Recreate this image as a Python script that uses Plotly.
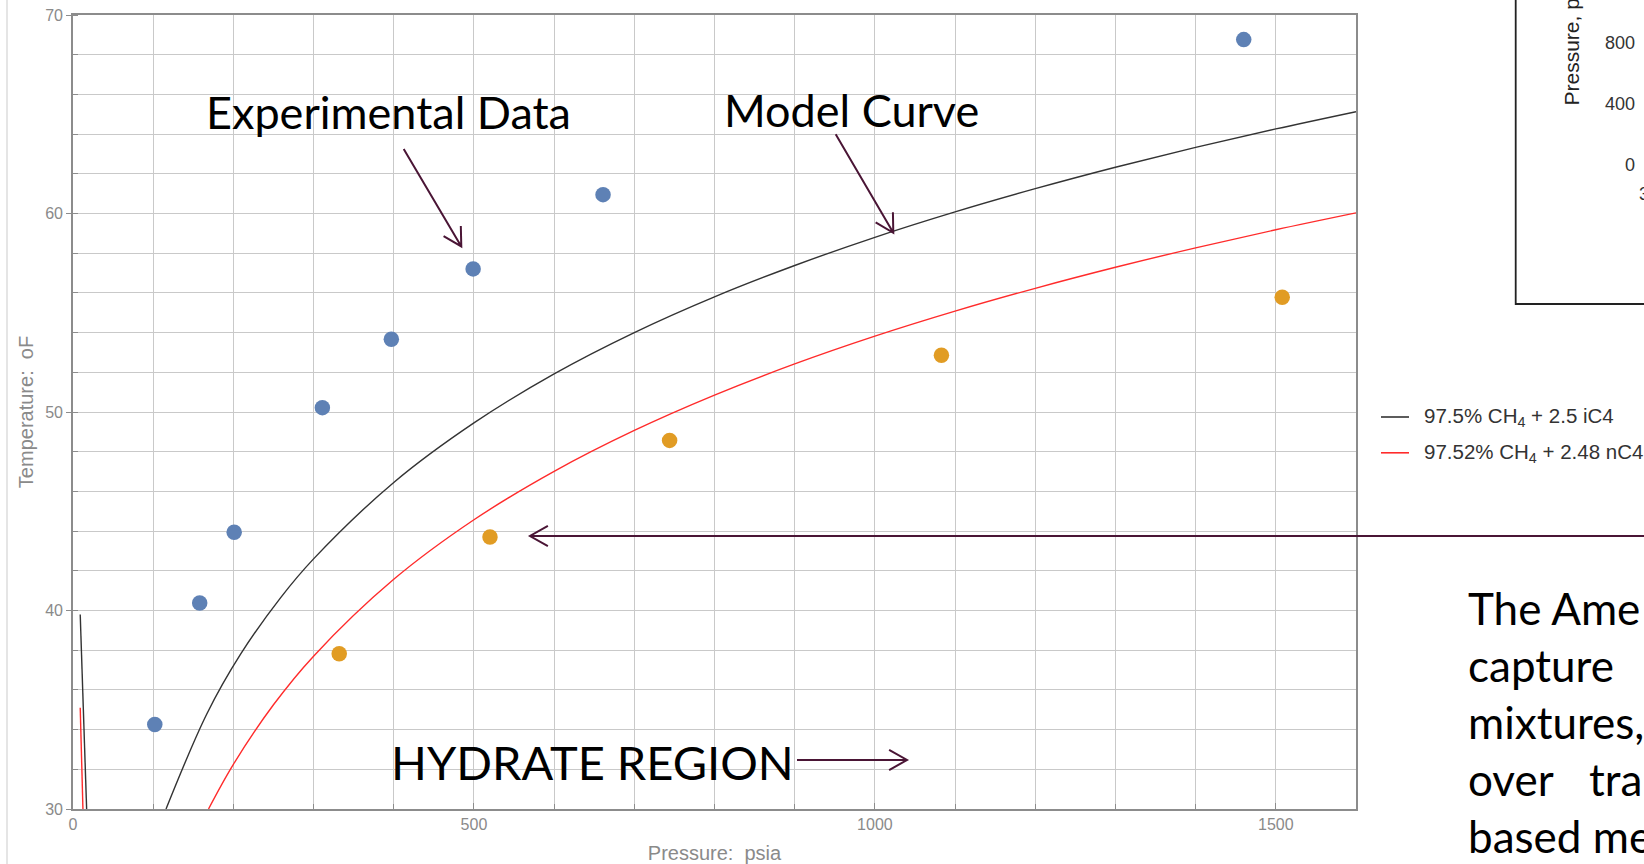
import math
import plotly.graph_objects as go

# ---- data: hydrate formation conditions (pressure in psia, temperature in °F) ----
series_names = ["97.5% CH<sub>4</sub> + 2.5 iC4", "97.52% CH<sub>4</sub> + 2.48 nC4"]
series_colors = ["#333333", "#ff2b2b"]

# measured points
exp_ic4_p = [102, 158, 201, 311, 397, 499, 661, 1460]
exp_ic4_t = [34.26, 40.38, 43.94, 50.22, 53.67, 57.21, 60.95, 68.76]
exp_nc4_p = [332, 520, 744, 1083, 1508]
exp_nc4_t = [37.82, 43.70, 48.57, 52.86, 55.78]

# model curves
model_ic4_p = [116, 167, 209, 259, 300, 400, 500, 600, 700, 800, 900, 1000,
               1100, 1200, 1300, 1400, 1500, 1600]
model_ic4_t = [30.0, 34.8, 37.8, 40.65, 42.6, 46.45, 49.45, 51.92, 54.0,
               55.8, 57.38, 58.8, 60.08, 61.25, 62.33, 63.33, 64.26, 65.13]
model_nc4_p = [169, 200, 250, 300, 400, 500, 600, 700, 800, 900, 1000,
               1100, 1200, 1300, 1400, 1500, 1600]
model_nc4_t = [30.0, 32.25, 35.25, 37.70, 41.57, 44.57, 47.01, 49.07, 50.85,
               52.42, 53.82, 55.08, 56.23, 57.29, 58.27, 59.18, 60.03]

# low-pressure branches of the model near the origin
branch_ic4_p = [9, 17]
branch_ic4_t = [39.8, 30.0]
branch_nc4_p = [9, 12.4]
branch_nc4_t = [35.1, 30.0]

x_ticks = [0, 500, 1000, 1500]
y_ticks = [30, 40, 50, 60, 70]

# ---- page geometry ----
W, H = 1644, 864
ML, MR, MT, MB = 73, 288, 15, 55
PW, PH = W - ML - MR, H - MT - MB


def px(x):
    return (x - ML) / PW


def py(y):
    return (H - MB - y) / PH


ARROW = "#4a1535"
BLUE = "#5e81b5"
ORANGE = "#e19c24"
TICK_GREY = "#8a8a8a"

fig = go.Figure()

fig.add_trace(go.Scatter(
    x=branch_ic4_p + [None] + model_ic4_p,
    y=branch_ic4_t + [None] + model_ic4_t,
    mode="lines", line=dict(color=series_colors[0], width=1.4, shape="spline"),
    connectgaps=False, showlegend=False, hoverinfo="skip"))
fig.add_trace(go.Scatter(
    x=branch_nc4_p + [None] + model_nc4_p,
    y=branch_nc4_t + [None] + model_nc4_t,
    mode="lines", line=dict(color=series_colors[1], width=1.4, shape="spline"),
    connectgaps=False, showlegend=False, hoverinfo="skip"))
fig.add_trace(go.Scatter(
    x=exp_ic4_p, y=exp_ic4_t, mode="markers",
    marker=dict(color=BLUE, size=15.5, line=dict(width=0)), showlegend=False))
fig.add_trace(go.Scatter(
    x=exp_nc4_p, y=exp_nc4_t, mode="markers",
    marker=dict(color=ORANGE, size=15.5, line=dict(width=0)), showlegend=False))

grid = "#c9c9c9"
axis_font = dict(family="Liberation Sans, Arial", size=16, color=TICK_GREY)
title_font = dict(family="Liberation Sans, Arial", size=20, color=TICK_GREY)

fig.update_xaxes(
    range=[0, 1600], tickvals=x_ticks, ticks="inside", ticklen=6, tickcolor="#8c8c8c",
    showgrid=True, gridcolor=grid, gridwidth=1.2,
    minor=dict(dtick=100, showgrid=True, gridcolor=grid, gridwidth=1.2,
               ticks="inside", ticklen=5, tickcolor="#8c8c8c"),
    showline=True, linecolor="#8c8c8c", linewidth=1.6, mirror=True, zeroline=False,
    tickfont=axis_font, automargin=False,
    title=dict(text="Pressure:\u00a0\u00a0psia", font=title_font, standoff=14))
fig.update_yaxes(
    range=[30, 70], tickvals=y_ticks, ticks="outside", ticklen=5, tickcolor="#8c8c8c",
    showgrid=True, gridcolor=grid, gridwidth=1.2,
    minor=dict(dtick=2, showgrid=True, gridcolor=grid, gridwidth=1.2,
               ticks="inside", ticklen=5, tickcolor="#8c8c8c"),
    showline=True, linecolor="#8c8c8c", linewidth=1.6, mirror=True, zeroline=False,
    tickfont=axis_font, automargin=False,
    title=dict(text="Temperature:\u00a0\u00a0oF", font=title_font, standoff=6))

shapes = []
annotations = []


def arrow(x0, y0, x1, y1, head=20.5, ang=0.51, width=2):
    dx, dy = x1 - x0, y1 - y0
    L = math.hypot(dx, dy)
    ux, uy = -dx / L, -dy / L
    arms = []
    for s in (1, -1):
        c, sn = math.cos(s * ang), math.sin(s * ang)
        ax, ay = ux * c - uy * sn, ux * sn + uy * c
        arms.append((x1 + head * ax, y1 + head * ay))
    path = (f"M{px(x0)},{py(y0)} L{px(x1)},{py(y1)} "
            f"M{px(arms[0][0])},{py(arms[0][1])} L{px(x1)},{py(y1)} "
            f"L{px(arms[1][0])},{py(arms[1][1])}")
    shapes.append(dict(type="path", xref="paper", yref="paper", path=path,
                       line=dict(color=ARROW, width=width)))


def label(text, x, y, size, xanchor="center", yanchor="middle", color="#000000",
          family="Lato", angle=0):
    annotations.append(dict(text=text, x=px(x), y=py(y), xref="paper", yref="paper",
                            xanchor=xanchor, yanchor=yanchor, showarrow=False,
                            textangle=angle,
                            font=dict(family=family, size=size, color=color)))


# callouts on the chart
label("Experimental Data", 388.5, 112, 45)
arrow(403.7, 148.9, 461.3, 246.4)
label("Model Curve", 851, 110, 45)
arrow(835.7, 134.2, 893.3, 232.8)
label("HYDRATE REGION", 592, 762, 47)
arrow(797, 760, 907, 760)
arrow(1660, 536, 530, 536)

# series key
for i, (name, col) in enumerate(zip(series_names, series_colors)):
    yy = 417 + 35.8 * i
    shapes.append(dict(type="line", xref="paper", yref="paper",
                       x0=px(1381), x1=px(1409), y0=py(yy), y1=py(yy),
                       line=dict(color=col, width=1.6)))
    label(name, 1422.5, yy, 20.5, xanchor="left",
          color="#333333", family="Liberation Sans, Arial")

# slide margin rule
shapes.append(dict(type="line", xref="paper", yref="paper",
                   x0=px(7), x1=px(7), y0=py(0), y1=py(H),
                   line=dict(color="#dcdcdc", width=1.5)))

# neighbouring pressure chart frame
shapes.append(dict(type="path", xref="paper", yref="paper",
                   path=f"M{px(1515.7)},{py(-5)} L{px(1515.7)},{py(304)} L{px(1660)},{py(304)}",
                   line=dict(color="#222222", width=1.8)))
label("Pressure, p", 1571, 108, 21, yanchor="bottom", color="#222222",
      family="Liberation Sans, Arial", angle=-90)
for t, yy in [("800", 43.3), ("400", 104), ("0", 165)]:
    label(t, 1637, yy, 18, xanchor="right", color="#333333",
          family="Liberation Sans, Arial")
label("3", 1637.5, 194, 18, xanchor="left", color="#333333",
      family="Liberation Sans, Arial")

# body text beside the chart
para = [("The Ame", 1466, 607.5), ("capture", 1466, 665), ("mixtures,", 1466, 722),
        ("over", 1466, 779), ("tra", 1587, 779), ("based me", 1466, 835.5)]
for t, x, y in para:
    label(t, x, y, 44, xanchor="left")

fig.update_layout(
    width=W, height=H, margin=dict(l=ML, r=MR, t=MT, b=MB, autoexpand=False),
    paper_bgcolor="white", plot_bgcolor="white",
    shapes=shapes, annotations=annotations, showlegend=False)

fig.write_html("out.html")
